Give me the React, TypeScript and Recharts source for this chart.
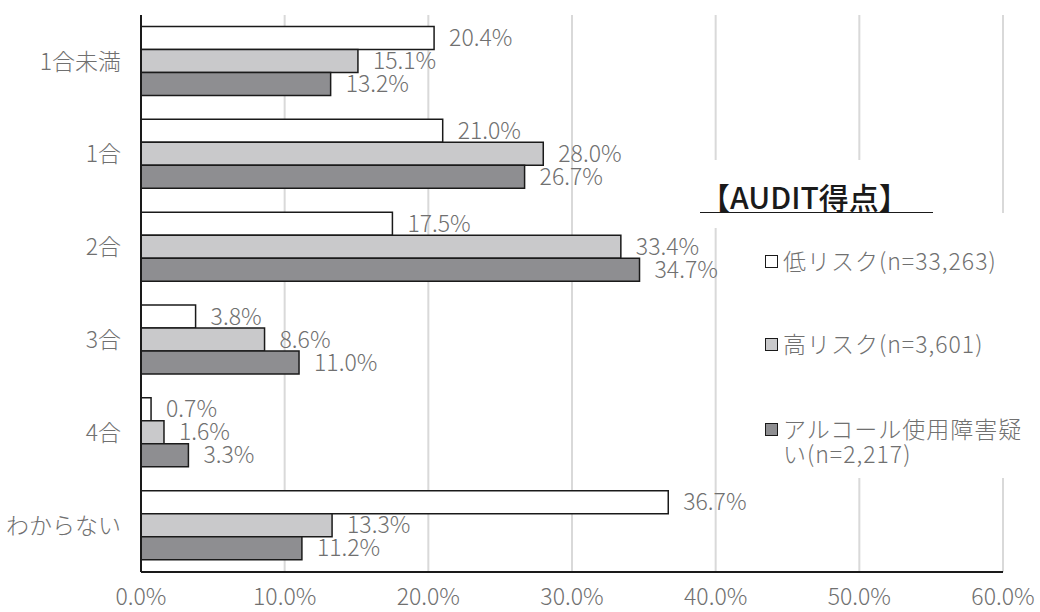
import React from "react";
import {
  BarChart,
  Bar,
  XAxis,
  YAxis,
  CartesianGrid,
  LabelList,
} from "recharts";

const categories = ["1合未満", "1合", "2合", "3合", "4合", "わからない"];
const lowRisk = [20.4, 21.0, 17.5, 3.8, 0.7, 36.7];
const highRisk = [15.1, 28.0, 33.4, 8.6, 1.6, 13.3];
const disorder = [13.2, 26.7, 34.7, 11.0, 3.3, 11.2];
const xTicks = [0, 10, 20, 30, 40, 50, 60];

const legendTitle = "【AUDIT得点】";
const seriesNames = [
  "低リスク(n=33,263)",
  "高リスク(n=3,601)",
  "アルコール使用障害疑い(n=2,217)",
];
const seriesColors = ["#ffffff", "#c9c9cb", "#8e8e91"];

const FONT = "'Noto Sans CJK JP', 'Noto Sans', sans-serif";
const TEXT = "#707070";

const data = categories.map((name, i) => ({
  name,
  low: lowRisk[i],
  high: highRisk[i],
  dis: disorder[i],
}));

const fmt = (v: any) => `${Number(v).toFixed(1)}%`;

const seriesKeys = ["low", "high", "dis"];

const textStyle = { fill: TEXT, fontSize: 23, fontFamily: FONT, fontWeight: 300 };

export default function App() {
  return (
    <div
      style={{
        position: "absolute",
        left: 0,
        top: 0,
        width: 1040,
        height: 612,
        background: "#fff",
        fontFamily: FONT,
      }}
    >
      <BarChart
        width={1040}
        height={612}
        data={data}
        layout="vertical"
        margin={{ top: 15, right: 37, bottom: 0, left: 0 }}
        barCategoryGap={11.5}
        barGap={0}
      >
        <CartesianGrid horizontal={false} stroke="#d9d9d9" strokeWidth={2} />
        <XAxis
          type="number"
          domain={[0, 60]}
          ticks={xTicks}
          tickFormatter={fmt}
          height={40}
          tickLine={false}
          tickSize={0}
          tickMargin={17}
          axisLine={{ stroke: "#1a1a1a", strokeWidth: 2 }}
          tick={textStyle}
          interval={0}
        />
        <YAxis
          type="category"
          dataKey="name"
          width={141}
          tickLine={false}
          tickSize={0}
          tickMargin={20}
          axisLine={{ stroke: "#1a1a1a", strokeWidth: 2 }}
          tick={textStyle}
          interval={0}
        />
        {seriesKeys.map((k, i) => (
          <Bar
            key={k}
            dataKey={k}
            name={seriesNames[i]}
            fill={seriesColors[i]}
            stroke="#1a1a1a"
            strokeWidth={1.5}
            isAnimationActive={false}
          >
            <LabelList
              dataKey={k}
              position="right"
              offset={15}
              formatter={fmt}
              style={textStyle}
            />
          </Bar>
        ))}
      </BarChart>

      {/* white area under the legend title */}
      <div
        style={{
          position: "absolute",
          left: 700,
          top: 212,
          width: 30,
          height: 16,
          background: "#fff",
        }}
      />

      {/* legend title */}
      <div
        style={{
          position: "absolute",
          left: 700,
          top: 160,
          width: 233,
          height: 53,
          background: "#fff",
          borderBottom: "1.5px solid #1a1a1a",
          boxSizing: "border-box",
        }}
      >
        <div
          style={{
            marginTop: 21,
            fontSize: 30,
            lineHeight: "30px",
            fontWeight: 500,
            color: "#1a1a1a",
            whiteSpace: "nowrap",
          }}
        >
          {legendTitle}
        </div>
      </div>

      {/* legend items */}
      <div
        style={{
          position: "absolute",
          left: 722,
          top: 213,
          width: 318,
          height: 265,
          background: "#fff",
        }}
      >
        {seriesNames.map((n, i) => (
          <div
            key={n}
            style={{
              position: "absolute",
              left: 43,
              top: [35, 118, 203][i],
              display: "flex",
              alignItems: "flex-start",
            }}
          >
            <div
              style={{
                width: 11,
                height: 11,
                marginTop: 7,
                background: seriesColors[i],
                border: "1.5px solid #1a1a1a",
                marginRight: 5,
                flexShrink: 0,
              }}
            />
            <div
              style={{
                width: 248,
                fontSize: 23,
                fontWeight: 300,
                lineHeight: "25px",
                letterSpacing: 1,
                color: TEXT,
              }}
            >
              {n}
            </div>
          </div>
        ))}
      </div>
    </div>
  );
}
